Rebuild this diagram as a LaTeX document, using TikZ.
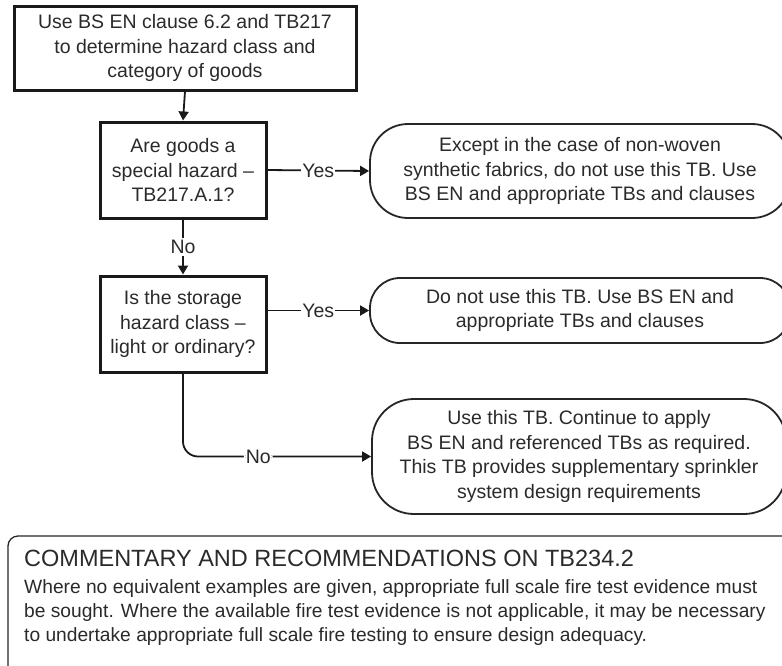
\documentclass[tikz,border=0pt]{standalone}
\usepackage{fontspec}
\setmainfont{Liberation Sans}
\usetikzlibrary{arrows.meta}
\definecolor{ink}{HTML}{2A2A2A}
\begin{document}
\begin{tikzpicture}[x=1pt,y=-1pt,
  every node/.style={font=\fontsize{19.5}{24.5}\selectfont, text=ink},
  sqbox/.style={draw=black!90, line width=3pt, align=center, inner sep=0pt},
  rbox/.style={draw=black!85, line width=1.8pt, rounded corners=38pt, align=center, inner sep=0pt},
  arr/.style={draw=black!90, line width=1.8pt, -{Triangle[length=9pt,width=10pt]}},
  lbl/.style={fill=white, inner sep=2pt},
  ]
\useasboundingbox (0,0) rectangle (782,665);
\clip (0,0) rectangle (782,665);

\node[sqbox, minimum width=342pt, minimum height=84pt] (b1) at (185,48)
  {Use BS EN clause 6.2 and TB217\\to determine hazard class and\\category of goods};
\node[sqbox, minimum width=166pt, minimum height=96pt] (b2) at (183,170)
  {Are goods a\\special hazard --\\TB217.A.1?};
\node[sqbox, minimum width=166pt, minimum height=96pt] (b3) at (183,324)
  {Is the storage\\hazard class --\\light or ordinary?};

\node[rbox, minimum width=420pt, minimum height=94pt] (r1) at (580,171)
  {Except in the case of non-woven\\synthetic fabrics, do not use this TB. Use\\BS EN and appropriate TBs and clauses};
\node[rbox, rounded corners=30pt, minimum width=420pt, minimum height=65pt] (r2) at (580,310.5)
  {Do not use this TB. Use BS EN and\\appropriate TBs and clauses};
\node[rbox, rounded corners=42pt, minimum width=414pt, minimum height=115pt] (r3) at (579,456.5)
  {Use this TB. Continue to apply\\BS EN and referenced TBs as required.\\This TB provides supplementary sprinkler\\system design requirements};

\draw[arr] (b1.south) -- (b2.north);
\draw[arr] (b2.south) -- node[lbl] (no1) {No} (b3.north);
\draw[arr] (b2.east) -- node[lbl, inner sep=1pt] (yes1) {Yes} (r1.west);
\draw[arr] (r2.west -| b3.east) -- node[lbl, inner sep=1pt] (yes2) {Yes} (r2.west);
\draw[arr, rounded corners=15pt] (b3.south) |- node[lbl, pos=0.70] (no2) {No} (r3.west);

\draw[draw=black!85, line width=1.3pt, rounded corners=10pt] (8,536) rectangle (800,690);
\node[anchor=west, inner sep=0pt, font=\fontsize{23.5}{24}\selectfont] (ctitle) at (24,558)
  {COMMENTARY AND RECOMMENDATIONS ON TB234.2};
\node[anchor=north west, align=left, inner sep=0pt, font=\fontsize{19.2}{24}\selectfont] (cbody) at (24,579)
  {Where no equivalent examples are given, appropriate full scale fire test evidence must\\
   be sought. Where the available fire test evidence is not applicable, it may be necessary\\
   to undertake appropriate full scale fire testing to ensure design adequacy.};
\end{tikzpicture}
\end{document}
